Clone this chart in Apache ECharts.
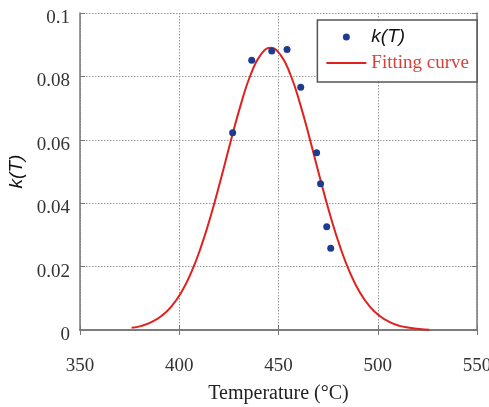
<!DOCTYPE html>
<html>
<head>
<meta charset="utf-8">
<script src="https://cdn.jsdelivr.net/npm/echarts@6/dist/echarts.min.js"></script>
<style>
html,body{margin:0;padding:0;background:#fff;}
#main{width:489px;height:407px;}
</style>
</head>
<body>
<div id="main"></div>
<script>
// measured k(T) points (temperature, value)
var tempPts = [426.9, 436.5, 446.6, 454.3, 461.2, 469.2, 471.2, 474.3, 476.3];
var kPts = [0.0622, 0.0851, 0.0880, 0.0885, 0.0766, 0.0559, 0.0461, 0.0326, 0.0258];
// fitting curve
var fitX = [376, 381, 386, 391, 396, 401, 406, 411, 416, 421, 426, 431, 436, 441, 446,
	451, 456, 461, 466, 471, 476, 481, 486, 491, 496, 501, 506, 511, 516, 521, 526];
var fitY = [0.0007, 0.0013, 0.0025, 0.0044, 0.0074, 0.0118, 0.0181, 0.0263, 0.0363, 0.0477,
	0.0597, 0.0711, 0.0806, 0.0868, 0.0890, 0.0868, 0.0806, 0.0711, 0.0597, 0.0477, 0.0363,
	0.0263, 0.0181, 0.0118, 0.0074, 0.0044, 0.0025, 0.0013, 0.0007, 0.0003, 0.0001];
var xTicks = [350, 550, 50];   // min, max, step
var yTicks = [0, 0.1, 0.02];

var axisColor = '#777';
var serif = 'Liberation Serif';

var scatterData = tempPts.map(function(t, i){ return [t, kPts[i]]; });
var fitData = fitX.map(function(t, i){ return [t, fitY[i]]; });

var myChart = echarts.init(document.getElementById('main'));
var option = {
	animation: false,
	backgroundColor: '#fff',
	grid: { left: 80, right: 12, top: 13, bottom: 77, outerBoundsMode: 'none', containLabel: false },
	legend: {
		orient: 'vertical',
		right: 12,
		top: 20,
		padding: [6, 8, 8, 9],
		itemWidth: 40,
		itemHeight: 7,
		itemGap: 4,
		itemTextGap: 1,
		backgroundColor: '#fff',
		borderColor: '#555',
		borderWidth: 1.5,
		borderRadius: 0,
		textStyle: { fontSize: 19, lineHeight: 22 },
		data: [
			{ name: 'k(T)', icon: 'circle', textStyle: { fontFamily: 'Liberation Sans', fontStyle: 'italic', fontSize: 19, color: '#111' } },
			{ name: 'Fitting curve', icon: 'path://M0,0L40,0L40,2L0,2Z', textStyle: { fontFamily: serif, fontSize: 19, color: '#d9403a' } }
		]
	},
	xAxis: [{
		type: 'value',
		min: xTicks[0], max: xTicks[1], interval: xTicks[2],
		name: 'Temperature (°C)',
		nameLocation: 'middle',
		nameGap: 54,
		nameTextStyle: { fontFamily: serif, fontSize: 20, color: '#222' },
		axisLine: { onZero: false, lineStyle: { color: axisColor, width: 1.5 } },
		axisTick: { inside: true, length: 5, lineStyle: { color: axisColor } },
		axisLabel: { fontFamily: serif, fontSize: 19, color: '#333', margin: 27 },
		splitLine: { show: true, lineStyle: { color: '#999', type: [1.5, 1.5] } }
	}, {
		type: 'value', position: 'top',
		min: xTicks[0], max: xTicks[1], interval: xTicks[2],
		axisLine: { show: true, lineStyle: { color: axisColor, width: 1.5 } },
		axisTick: { inside: true, length: 5, lineStyle: { color: axisColor } },
		axisLabel: { show: false },
		splitLine: { show: false }
	}],
	yAxis: [{
		type: 'value',
		min: yTicks[0], max: yTicks[1], interval: yTicks[2],
		name: 'k(T)',
		nameLocation: 'middle',
		nameGap: 46,
		nameRotate: 90,
		nameTextStyle: { fontFamily: 'Liberation Sans', fontStyle: 'italic', fontSize: 19, color: '#111' },
		axisLine: { show: true, onZero: false, lineStyle: { color: axisColor, width: 1.5 } },
		axisTick: { inside: true, length: 5, lineStyle: { color: axisColor } },
		axisLabel: {
			margin: 10,
			formatter: function(v){ return '{a|' + v + '}'; },
			rich: { a: { fontFamily: serif, fontSize: 19, color: '#333', padding: [10, 0, 0, 0] } }
		},
		splitLine: { show: true, lineStyle: { color: '#999', type: [1.5, 1.5] } }
	}, {
		type: 'value', position: 'right',
		min: yTicks[0], max: yTicks[1], interval: yTicks[2],
		axisLine: { show: true, lineStyle: { color: axisColor, width: 1.5 } },
		axisTick: { inside: true, length: 5, lineStyle: { color: axisColor } },
		axisLabel: { show: false },
		splitLine: { show: false }
	}],
	series: [
		{
			name: 'Fitting curve',
			type: 'line',
			smooth: true,
			symbol: 'none',
			lineStyle: { color: '#e0211d', width: 2 },
			itemStyle: { color: '#e0211d' },
			data: fitData,
			z: 2
		},
		{
			name: 'k(T)',
			type: 'scatter',
			symbol: 'circle',
			symbolSize: 7,
			itemStyle: { color: '#1e3c8f', opacity: 1 },
			data: scatterData,
			z: 3
		}
	]
};
myChart.setOption(option);
</script>
</body>
</html>
